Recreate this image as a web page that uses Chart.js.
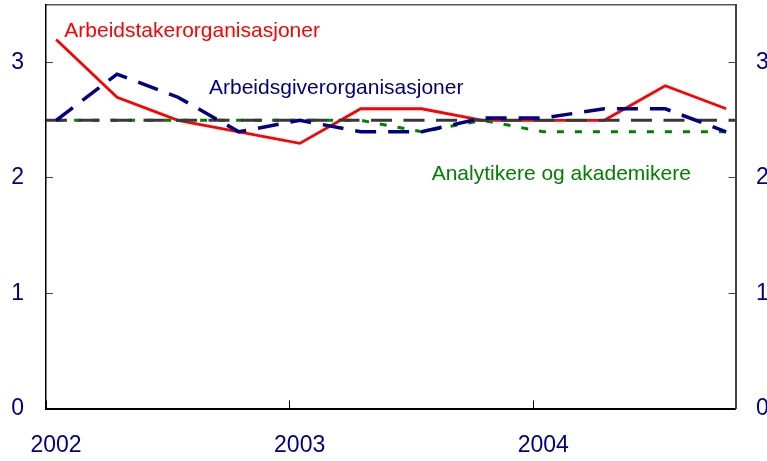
<!DOCTYPE html>
<html>
<head>
    <script src="https://cdn.jsdelivr.net/npm/chart.js@4.4.0/dist/chart.umd.min.js"></script>
    <style>
        body {
            margin: 0;
            background: #ffffff;
        }

        canvas {
            display: block;
        }
    </style>
    <title>Inflasjonsforventninger 2 år fram</title>
</head>

<body>
    <canvas id="myChart" width="767" height="461"></canvas>

    <script>
        // quarterly survey, 2002 K1 - 2004 K4
        var quarters = ['2002K1', '2002K2', '2002K3', '2002K4',
            '2003K1', '2003K2', '2003K3', '2003K4',
            '2004K1', '2004K2', '2004K3', '2004K4'];
        var yearTicks = [2002, 2003, 2004];
        var yTicks = [0, 1, 2, 3];

        var arbeidstakere = [3.2, 2.7, 2.5, 2.4, 2.3, 2.6, 2.6, 2.5, 2.5, 2.5, 2.8, 2.6];
        var arbeidsgivere = [2.5, 2.9, 2.7, 2.4, 2.5, 2.4, 2.4, 2.52, 2.52, 2.6, 2.6, 2.4];
        var analytikere = [2.5, 2.5, 2.5, 2.5, 2.5, 2.5, 2.4, 2.5, 2.4, 2.4, 2.4, 2.4];
        var inflasjonsmaal = 2.5;

        var xMin = 2002, xMax = 2004.83;
        var yMin = 0, yMax = 3.5;

        var navy = '#000080';
        var tickFont = { family: '"Liberation Sans", Arial, sans-serif', size: 23 };

        // quarter label -> mid-month of first month in the quarter, as decimal year
        function quarterToYear(q) {
            var y = parseInt(q.slice(0, 4));
            var k = parseInt(q.slice(5));
            return y + (k - 1) * 0.25 + 1 / 24;
        }

        function toPoints(values) {
            return quarters.map(function (q, i) {
                return { x: quarterToYear(q), y: values[i] };
            });
        }

        // series names written into the plot, anchored in data units
        var seriesLabels = [
            { text: 'Arbeidstakerorganisasjoner', x: 2002.075, y: 3.226, color: '#ff0000' },
            { text: 'Arbeidsgiverorganisasjoner', x: 2002.669, y: 2.724, color: navy },
            { text: 'Analytikere og akademikere', x: 2003.583, y: 1.986, color: '#008000' }
        ];

        var labelPlugin = {
            id: 'seriesLabels',
            afterDatasetsDraw: function (chart) {
                var ctx = chart.ctx;
                var xs = chart.scales.x, ys = chart.scales.y;
                ctx.save();
                ctx.font = '21px "Liberation Sans", Arial, sans-serif';
                ctx.textAlign = 'left';
                ctx.textBaseline = 'alphabetic';
                seriesLabels.forEach(function (l) {
                    ctx.fillStyle = l.color;
                    ctx.fillText(l.text, xs.getPixelForValue(l.x), ys.getPixelForValue(l.y));
                });
                ctx.restore();
            }
        };

        function keepTicks(list) {
            return function (scale) {
                scale.ticks = list.map(function (v) { return { value: v }; });
            };
        }

        // fixed axis sizes, and no extra room for overhanging labels
        function fixSize(w, h) {
            return function (s) {
                if (w !== null) s.width = w;
                if (h !== null) s.height = h;
                s.paddingLeft = 0;
                s.paddingRight = 0;
                s.paddingTop = 0;
                s.paddingBottom = 0;
            };
        }

        var lineDefaults = { fill: false, tension: 0, pointRadius: 0, borderCapStyle: 'butt' };

        // first dataset is drawn on top
        new Chart(document.getElementById('myChart').getContext('2d'), {
            type: 'line',
            data: {
                datasets: [
                    Object.assign({
                        label: 'Arbeidsgiverorganisasjoner',
                        data: toPoints(arbeidsgivere),
                        borderColor: navy,
                        borderWidth: 3.5,
                        borderDash: [21, 12]
                    }, lineDefaults),
                    Object.assign({
                        label: 'Inflasjonsmål',
                        data: [{ x: xMin, y: inflasjonsmaal }, { x: xMax, y: inflasjonsmaal }],
                        borderColor: '#383838',
                        borderWidth: 3,
                        borderDash: [21, 11.5]
                    }, lineDefaults),
                    Object.assign({
                        label: 'Analytikere og akademikere',
                        data: toPoints(analytikere),
                        borderColor: '#008000',
                        borderWidth: 3,
                        borderDash: [7, 11]
                    }, lineDefaults),
                    Object.assign({
                        label: 'Arbeidstakerorganisasjoner',
                        data: toPoints(arbeidstakere),
                        borderColor: '#ff0000',
                        borderWidth: 2.8
                    }, lineDefaults)
                ]
            },
            options: {
                responsive: false,
                animation: false,
                devicePixelRatio: 1,
                layout: { padding: { top: 5, left: 0, right: 0, bottom: 0 } },
                plugins: {
                    legend: { display: false },
                    tooltip: { enabled: false }
                },
                scales: {
                    x: {
                        type: 'linear',
                        position: 'bottom',
                        min: xMin,
                        max: xMax,
                        afterBuildTicks: keepTicks(yearTicks),
                        afterFit: fixSize(null, 52.5),
                        grid: { drawOnChartArea: false, tickLength: -8, color: '#000000', lineWidth: 1 },
                        border: { color: '#000000', width: 2 },
                        ticks: {
                            color: navy,
                            font: tickFont,
                            padding: 31,
                            labelOffset: 10,
                            autoSkip: false,
                            maxRotation: 0,
                            callback: function (v) { return String(v); }
                        }
                    },
                    xTop: {
                        type: 'linear',
                        position: 'top',
                        display: true,
                        min: xMin,
                        max: xMax,
                        afterFit: fixSize(null, 0),
                        grid: { drawOnChartArea: false, drawTicks: false },
                        border: { color: '#555555', width: 1.5 },
                        ticks: { display: false }
                    },
                    y: {
                        type: 'linear',
                        position: 'left',
                        min: yMin,
                        max: yMax,
                        afterBuildTicks: keepTicks(yTicks),
                        afterFit: fixSize(46, null),
                        grid: { drawOnChartArea: false, tickLength: -7, color: '#444444', lineWidth: 1 },
                        border: { color: '#000000', width: 1.5 },
                        ticks: { color: navy, font: tickFont, padding: 29 }
                    },
                    y2: {
                        type: 'linear',
                        position: 'right',
                        display: true,
                        min: yMin,
                        max: yMax,
                        afterBuildTicks: keepTicks(yTicks),
                        afterFit: fixSize(31.5, null),
                        grid: { drawOnChartArea: false, tickLength: -7, color: '#444444', lineWidth: 1 },
                        border: { color: '#444444', width: 2 },
                        ticks: { color: navy, font: tickFont, padding: 27.5 }
                    }
                }
            },
            plugins: [labelPlugin]
        });
    </script>
</body>

</html>
